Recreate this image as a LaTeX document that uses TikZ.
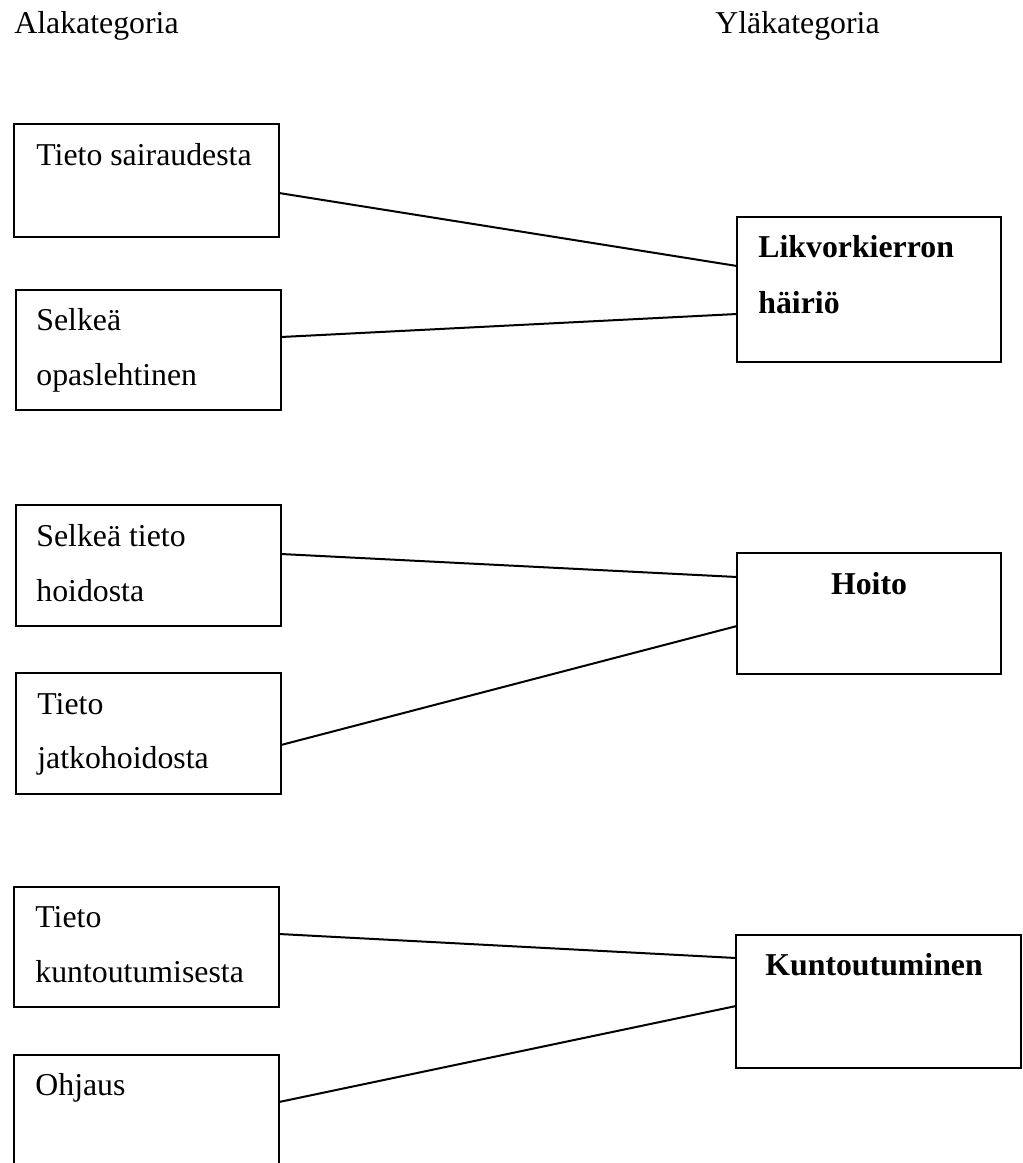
\documentclass[tikz,border=0pt]{standalone}
\usepackage{fontspec}
\setmainfont{Liberation Serif}
\usetikzlibrary{fit,calc}
\begin{document}
\begin{tikzpicture}[x=0.5pt,y=-0.5pt,
  box/.style={draw=black, line width=1pt, inner sep=0pt, outer sep=0pt, rectangle},
  link/.style={draw=black, line width=1pt},
  txt/.style={anchor=base west, inner sep=0pt, font=\fontsize{15.9}{19}\selectfont},
  btxt/.style={txt, font=\fontsize{15.9}{19}\selectfont\bfseries}]
\useasboundingbox (0,0) rectangle (1023,1163);
\clip (0,0) rectangle (1023,1163);
% headers
\node[txt] (hA) at (14,33) {Alakategoria};
\node[txt] (hY) at (715,33) {Yläkategoria};
% left boxes
\node[box, fit={(14,124)(279,237)}] (b1) {};
\node[box, fit={(16,290)(281,410)}] (b2) {};
\node[box, fit={(16,505)(281,626)}] (b3) {};
\node[box, fit={(16,673)(281,794)}] (b4) {};
\node[box, fit={(14,887)(279,1007)}] (b5) {};
\node[box, fit={(14,1055)(279,1175)}] (b6) {};
% right boxes
\node[box, fit={(737,217)(1001,362)}] (r1) {};
\node[box, fit={(737,553)(1001,674)}] (r2) {};
\node[box, fit={(736,935)(1021,1068)}] (r3) {};
% texts
\node[txt] (t1) at (36,165) {Tieto sairaudesta};
\node[txt] (t2a) at (36,330) {Selkeä};
\node[txt] (t2b) at (36,385) {opaslehtinen};
\node[txt] (t3a) at (36,546) {Selkeä tieto};
\node[txt] (t3b) at (36,601) {hoidosta};
\node[txt] (t4a) at (37,714) {Tieto};
\node[txt] (t4b) at (37,768) {jatkohoidosta};
\node[txt] (t5a) at (35,927) {Tieto};
\node[txt] (t5b) at (35,982) {kuntoutumisesta};
\node[txt] (t6) at (35,1095) {Ohjaus};
\node[btxt] (u1a) at (758,257) {Likvorkierron};
\node[btxt] (u1b) at (758,313) {häiriö};
\node[btxt, anchor=base] (u2) at (869,594) {Hoito};
\node[btxt] (u3) at (765,975) {Kuntoutuminen};
% connectors
\draw[link] ($(b1.north east)+(0,69)$) -- ($(r1.north west)+(0,49)$);
\draw[link] ($(b2.north east)+(0,47)$) -- ($(r1.north west)+(0,97)$);
\draw[link] ($(b3.north east)+(0,49)$) -- ($(r2.north west)+(0,24)$);
\draw[link] ($(b4.north east)+(0,72)$) -- ($(r2.north west)+(0,73)$);
\draw[link] ($(b5.north east)+(0,47)$) -- ($(r3.north west)+(0,23)$);
\draw[link] ($(b6.north east)+(0,47)$) -- ($(r3.north west)+(0,71)$);
\end{tikzpicture}
\end{document}
